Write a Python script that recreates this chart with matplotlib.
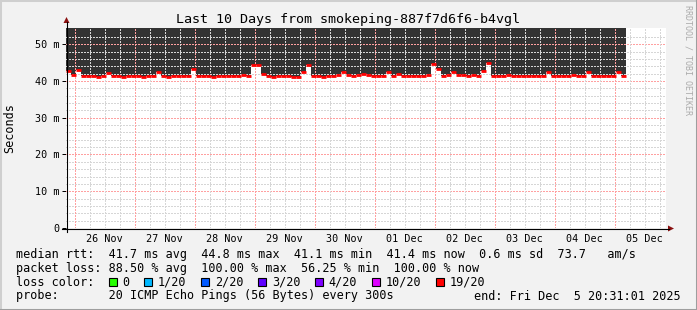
import numpy as np
import matplotlib.pyplot as plt
from datetime import datetime, timedelta
from matplotlib.lines import Line2D
from matplotlib.patches import Rectangle, Polygon

# median rtt in ms, one value every 2 hours starting at the graph start
median_ms = [
    42.6, 41.6, 43.0, 41.4, 41.3, 41.4, 41.2, 41.4, 42.2, 41.4, 41.3, 41.2,
    41.3, 41.4, 41.3, 41.2, 41.4, 41.3, 42.3, 41.3, 41.2, 41.4, 41.3, 41.4,
    41.3, 43.2, 41.3, 41.4, 41.3, 41.2, 41.4, 41.3, 41.4, 41.3, 41.4, 41.6,
    41.4, 44.4, 44.2, 41.8, 41.3, 41.2, 41.4, 41.3, 41.4, 41.1, 41.0, 42.3,
    44.4, 41.4, 41.3, 41.2, 41.4, 41.3, 41.5, 42.4, 41.6, 41.4, 41.5, 42.0,
    41.5, 41.3, 41.4, 41.3, 42.3, 41.4, 41.8, 41.4, 41.3, 41.4, 41.3, 41.4,
    41.6, 44.5, 43.2, 41.4, 41.5, 42.3, 41.6, 41.5, 41.4, 41.5, 41.4, 42.8,
    44.8, 41.4, 41.3, 41.4, 41.5, 41.4, 41.3, 41.4, 41.3, 41.4, 41.3, 41.4,
    42.4, 41.4, 41.3, 41.4, 41.3, 41.5, 41.4, 41.3, 42.3, 41.4, 41.3, 41.4,
    41.3, 41.4, 42.4, 41.3,
]
step_h = 2.0
y_top = 54.4
y_ticks = [0, 10, 20, 30, 40, 50]

start = datetime(2025, 11, 25, 20, 31, 1)
end = datetime(2025, 12, 5, 20, 31, 1)

loss_labels = ["0", "1/20", "2/20", "3/20", "4/20", "10/20", "19/20"]
loss_colors = ["#26ff00", "#00b8ff", "#0059ff", "#5e00ff", "#7e00ff", "#dd00ff", "#ff0000"]

W, H = 697, 310
def fx(x):
    return x / W
def fy(y):
    return 1 - y / H

mono = "DejaVu Sans Mono"
fig = plt.figure(figsize=(W / 100, H / 100), dpi=100, facecolor="#f2f2f2")
ax = fig.add_axes([fx(66), fy(228), 600 / W, 200 / H])
ax.set_facecolor("white")
span_h = (end - start).total_seconds() / 3600
ax.set_xlim(0, span_h)
ax.set_ylim(0, y_top)
for s in ax.spines.values():
    s.set_visible(False)

# smoke + median
edges = np.arange(len(median_ms) + 1) * step_h
vals = np.append(median_ms, median_ms[-1])
ax.fill_between(edges, vals, y_top, step="post", color="#333333", lw=0, zorder=1)
ax.hlines(median_ms, edges[:-1], edges[1:], color="#ff0000", lw=2.0, zorder=4,
          capstyle="butt")

# grid (1px on / 1px off dots, no antialiasing)
dot = (0, (1.39, 1.39))
gkw = dict(lw=1.0, ls=dot, zorder=3, antialiased=False)
for v in np.arange(2, y_top - 1, 2):
    major = abs(v % 10) < 1e-6
    ax.axhline(v, color="#ffa0a0" if major else "#d6d6d6", **gkw)
first_mid = datetime(2025, 11, 26)
mids = []
t = first_mid - timedelta(hours=18)
while t < end:
    h = (t - start).total_seconds() / 3600
    if 0 < h < span_h:
        major = t.hour == 0
        ax.axvline(h, color="#ffa0a0" if major else "#d6d6d6", **gkw)
        if major:
            mids.append(t)
    t += timedelta(hours=6)

# tick labels
noon = [(m + timedelta(hours=12) - start).total_seconds() / 3600 for m in mids]
ax.set_xticks(noon)
ax.set_xticklabels([m.strftime("%d %b") for m in mids], family=mono, fontsize=7.3)
ax.tick_params(axis="x", length=0, pad=4)
ax.set_yticks(y_ticks)
ax.set_yticklabels(["0" if v == 0 else f"{v} m" for v in y_ticks], family=mono, fontsize=7.3)
ax.tick_params(axis="y", length=3, width=0.72, pad=1.5)

# axes lines and arrows
fig.add_artist(Line2D([fx(66.5), fx(66.5)], [fy(232), fy(22)], color="black", lw=0.8))
fig.add_artist(Line2D([fx(62), fx(669)], [fy(228.5), fy(228.5)], color="black", lw=0.8))
arrow_c = "#8a1010"
fig.add_artist(Polygon([(fx(63.5), fy(23)), (fx(69.5), fy(23)), (fx(66.5), fy(17))],
                       closed=True, color=arrow_c, lw=0))
fig.add_artist(Polygon([(fx(668), fy(225.5)), (fx(668), fy(231.5)), (fx(674), fy(228.5))],
                       closed=True, color=arrow_c, lw=0))

# frame
fig.add_artist(Line2D([0, 0, 1], [0, 1, 1], color="#cfcfcf", lw=2.2))
fig.add_artist(Line2D([0, 1, 1], [0, 0, 1], color="#9e9e9e", lw=2.2))

# texts
fig.text(fx(348), fy(19), "Last 10 Days from smokeping-887f7d6f6-b4vgl", family=mono,
         fontsize=9.6, ha="center", va="center")
fig.text(fx(10), fy(128), "Seconds", family=mono, fontsize=8.5, rotation=90,
         ha="center", va="center")
fig.text(fx(688), fy(60), "RRDTOOL / TOBI OETIKER", family=mono, fontsize=6,
         rotation=270, ha="center", va="center", color="#ababab")

fs = 8.5
cw = fs * 100 / 72 * 0.602
lines = [
    "median rtt:  41.7 ms avg  44.8 ms max  41.1 ms min  41.4 ms now  0.6 ms sd  73.7   am/s",
    "packet loss: 88.50 % avg  100.00 % max  56.25 % min  100.00 % now",
    "",
    "probe:       20 ICMP Echo Pings (56 Bytes) every 300s",
]
rows = [254.5, 268.3, 282.3, 296.0]
for s, r in zip(lines, rows):
    if s:
        fig.text(fx(16), fy(r), s, family=mono, fontsize=fs, ha="left", va="center")
fig.text(fx(681), fy(rows[3]), "end: Fri Dec  5 20:31:01 2025", family=mono,
         fontsize=fs, ha="right", va="center")

# loss colour legend
fig.text(fx(16), fy(rows[2]), "loss color:", family=mono, fontsize=fs, ha="left", va="center")
idx = 13
for lab, col in zip(loss_labels, loss_colors):
    bx = 16 + idx * cw + 0.5
    fig.add_artist(Rectangle((fx(bx), fy(rows[2] + 4)), 8 / W, 8 / H, facecolor=col,
                             edgecolor="black", lw=0.8))
    fig.text(fx(16 + (idx + 2) * cw), fy(rows[2]), lab, family=mono, fontsize=fs,
             ha="left", va="center")
    idx += 2 + len(lab) + 2

fig.savefig("out.png", dpi=100, facecolor=fig.get_facecolor())
